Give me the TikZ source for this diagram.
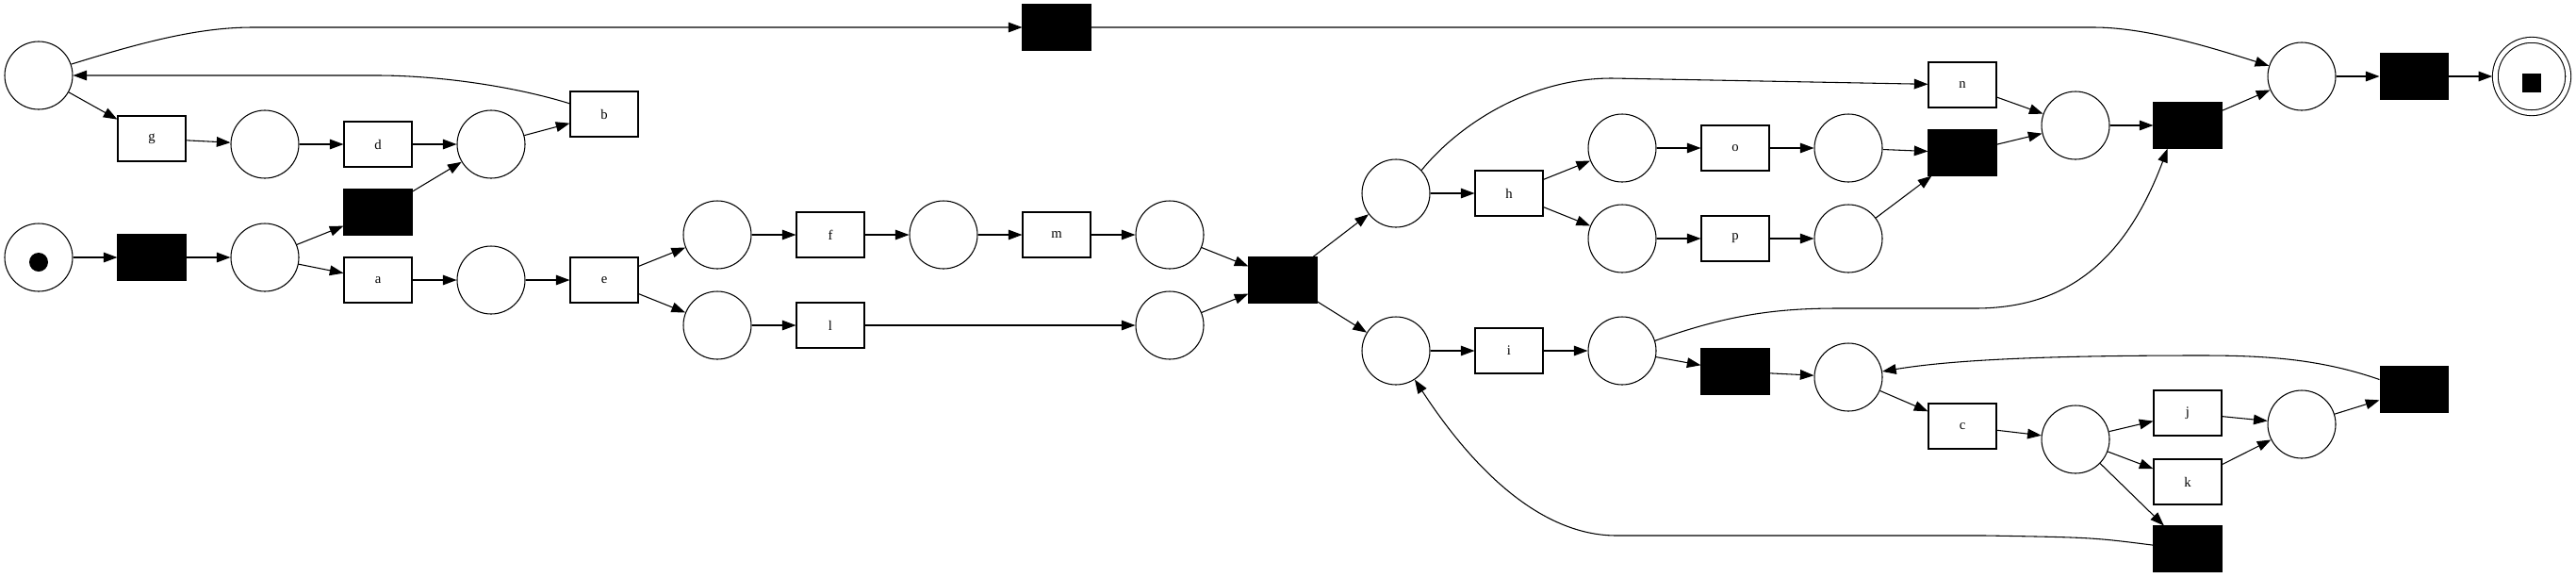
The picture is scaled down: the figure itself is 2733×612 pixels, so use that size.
\documentclass[tikz,border=0pt]{standalone}
\usepackage{fontspec}
\setmainfont{Liberation Serif}
\usepackage{tikz}
\usetikzlibrary{arrows.meta, positioning}

\begin{document}
\begin{tikzpicture}[x=0.75pt, y=-0.75pt,
    place/.style={circle, draw, line width=0.8pt, minimum size=54pt, inner sep=0pt},
    sinkplace/.style={place, double, double distance=3.6pt, minimum size=58pt},
    trans/.style={rectangle, draw, line width=0.8pt, minimum width=54pt, minimum height=36pt, inner sep=0pt, font=\fontsize{11}{13}\selectfont},
    silent/.style={trans, fill=black},
    token/.style={circle, fill=black, minimum size=15pt, inner sep=0pt},
    sinktoken/.style={rectangle, fill=black, minimum size=15pt, inner sep=0pt},
    arc/.style={-{Triangle[length=11pt, width=8pt]}, line width=0.8pt}]
    \useasboundingbox (0,0) rectangle (2733,612);

          \node[place] (pSrc) at (41,273) {};
          \node[token] (tok) at (41,278) {};
          \node[silent] (tStart) at (161,273) {};
          \node[place] (p1) at (281,273) {};
          \node[silent] (tSkip) at (401,225) {};
          \node[trans] (tA) at (401,297) {a};
          \node[place] (p2) at (521,297) {};
          \node[trans] (tE) at (641,297) {e};
          \node[place] (p3) at (761,249) {};
          \node[place] (p4) at (761,345) {};
          \node[trans] (tF) at (881,249) {f};
          \node[trans] (tL) at (881,345) {l};
          \node[place] (p5) at (1001,249) {};
          \node[trans] (tM) at (1121,249) {m};
          \node[place] (p6) at (1241,249) {};
          \node[place] (p7) at (1241,345) {};
          \node[silent] (tJoin) at (1361,297) {};

          \node[place] (pA) at (41,80) {};
          \node[trans] (tG) at (161,147) {g};
          \node[place] (pG) at (281,153) {};
          \node[trans] (tD) at (401,153) {d};
          \node[place] (pD) at (521,153) {};
          \node[trans] (tB) at (641,121) {b};
          \node[silent] (tTop) at (1121,29) {};

          \node[place] (p8) at (1481,205) {};
          \node[place] (p9) at (1481,372) {};
          \node[trans] (tH) at (1601,205) {h};
          \node[trans] (tI) at (1601,372) {i};
          \node[place] (p10) at (1721,157) {};
          \node[place] (p11) at (1721,253) {};
          \node[place] (p12) at (1721,372) {};
          \node[trans] (tO) at (1841,157) {o};
          \node[trans] (tP) at (1841,253) {p};
          \node[silent] (tSkip2) at (1841,394) {};
          \node[place] (p13) at (1961,157) {};
          \node[place] (p14) at (1961,253) {};
          \node[place] (p15) at (1961,400) {};
          \node[trans] (tN) at (2082,90) {n};
          \node[silent] (tAnd) at (2082,162) {};
          \node[trans] (tC) at (2082,452) {c};
          \node[place] (p16) at (2202,133) {};
          \node[place] (p17) at (2202,466) {};
          \node[silent] (tFin) at (2321,133) {};
          \node[trans] (tJ) at (2321,438) {j};
          \node[trans] (tK) at (2321,511) {k};
          \node[silent] (tLoopC) at (2321,582) {};
          \node[place] (p18) at (2442,81) {};
          \node[place] (p19) at (2442,450) {};
          \node[silent] (tEnd) at (2561,81) {};
          \node[silent] (tLoopB) at (2561,413) {};
          \node[sinkplace] (pSink) at (2686,81) {};
          \node[sinktoken] (sinktok) at (2686,88) {};

          \draw[arc] (pSrc) -- (tStart);
          \draw[arc] (tStart) -- (p1);
          \draw[arc] (p1) -- (tSkip);
          \draw[arc] (p1) -- (tA);
          \draw[arc] (tSkip) -- (pD);
          \draw[arc] (tA) -- (p2);
          \draw[arc] (p2) -- (tE);
          \draw[arc] (tE) -- (p3);
          \draw[arc] (tE) -- (p4);
          \draw[arc] (p3) -- (tF);
          \draw[arc] (tF) -- (p5);
          \draw[arc] (p5) -- (tM);
          \draw[arc] (tM) -- (p6);
          \draw[arc] (p4) -- (tL);
          \draw[arc] (tL) -- (p7);
          \draw[arc] (p6) -- (tJoin);
          \draw[arc] (p7) -- (tJoin);

          \draw[arc] (pA) -- (tG);
          \draw[arc] (tG) -- (pG);
          \draw[arc] (pG) -- (tD);
          \draw[arc] (tD) -- (pD);
          \draw[arc] (pD) -- (tB);
          \draw[arc] (tB.163) .. controls (540,90) and (460,80) .. (400,80) -- (pA);
          \draw[arc] (pA.19) .. controls (150,45) and (210,29) .. (268,29) -- (tTop);
          \draw[arc] (tTop) -- (2221,29) .. controls (2270,29) and (2330,45) .. (p18);

          \draw[arc] (tJoin) -- (p8);
          \draw[arc] (tJoin) -- (p9);
          \draw[arc] (p8) -- (tH);
          \draw[arc] (p8.42) .. controls (1545,135) and (1620,83) .. (1710,83) -- (tN);
          \draw[arc] (tH) -- (p10);
          \draw[arc] (tH) -- (p11);
          \draw[arc] (p10) -- (tO);
          \draw[arc] (tO) -- (p13);
          \draw[arc] (p11) -- (tP);
          \draw[arc] (tP) -- (p14);
          \draw[arc] (p13) -- (tAnd);
          \draw[arc] (p14) -- (tAnd);
          \draw[arc] (tN) -- (p16);
          \draw[arc] (tAnd) -- (p16);
          \draw[arc] (p16) -- (tFin);
          \draw[arc] (tFin) -- (p18);
          \draw[arc] (p18) -- (tEnd);
          \draw[arc, shorten >=2pt] (tEnd) -- (pSink);

          \draw[arc] (p9) -- (tI);
          \draw[arc] (tI) -- (p12);
          \draw[arc] (p12) -- (tSkip2);
          \draw[arc] (p12.17) .. controls (1830,335) and (1880,327) .. (1950,327) -- (2095,327) .. controls (2180,327) and (2250,290) .. (tFin.229);
          \draw[arc] (tSkip2) -- (p15);
          \draw[arc] (p15) -- (tC);
          \draw[arc] (tC) -- (p17);
          \draw[arc] (p17) -- (tJ);
          \draw[arc] (p17) -- (tK);
          \draw[arc] (p17) -- (tLoopC);
          \draw[arc] (tJ) -- (p19);
          \draw[arc] (tK) -- (p19);
          \draw[arc] (p19) -- (tLoopB);
          \draw[arc] (tLoopB.164) .. controls (2460,380) and (2400,377) .. (2335,377) .. controls (2200,377) and (2080,380) .. (p15);
          \draw[arc] (tLoopC.174) .. controls (2220,570) .. (2106,568) -- (1715,568) .. controls (1620,568) and (1545,470) .. (p9);
    \end{tikzpicture}
\end{document}
